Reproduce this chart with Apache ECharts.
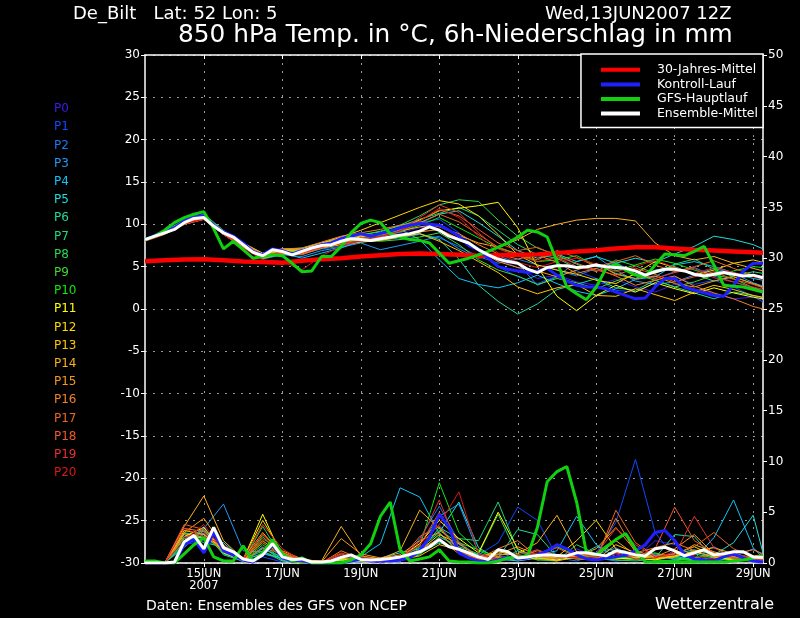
<!DOCTYPE html>
<html><head><meta charset="utf-8">
<script src="https://cdn.jsdelivr.net/npm/echarts@6/dist/echarts.min.js"></script>
<style>html,body{margin:0;padding:0;background:#000}#c{width:800px;height:618px}</style>
</head><body><div id="c"></div>
<script>
// ---- time axes (hours after 13JUN2007 12Z) ----
const hours6 = [0,6,12,18,24,30,36,42,48,54,60,66,72,78,84,90,96,102,108,114,120,126,132,138,144,150,156,162,168,174,180,186,192,198,204,210,216,222,228,234,240,246,252,258,264,270,276,282,288,294,300,306,312,318,324,330,336,342,348,354,360,366,372,378];
const hours12 = [0,12,24,36,48,60,72,84,96,108,120,132,144,156,168,180,192,204,216,228,240,252,264,276,288,300,312,324,336,348,360,372,378];
const tickHours = [36,84,132,180,228,276,324,372];
const tickLabels = ['15JUN\n2007','17JUN','19JUN','21JUN','23JUN','25JUN','27JUN','29JUN'];

// ---- main lines: 850 hPa temperature (°C) ----
const climTemp = [5.65,5.75,5.85,5.87,5.75,5.62,5.55,5.47,5.7,5.88,6.0,6.2,6.35,6.5,6.55,6.5,6.4,6.3,6.35,6.4,6.45,6.6,6.8,6.95,7.15,7.3,7.3,7.15,7.0,6.9,6.8,6.7,6.65];
const meanTemp = [8.2,8.6,9.0,9.4,10.2,10.7,10.8,9.8,9.0,8.5,7.6,6.7,6.3,7.0,6.8,6.4,6.8,7.2,7.5,7.6,8.0,8.3,8.2,8.1,8.3,8.5,8.7,8.9,9.2,9.7,9.3,8.6,8.2,7.8,7.0,6.4,5.9,5.6,5.4,4.7,4.3,4.9,5.1,5.1,4.9,5.0,5.2,5.0,4.9,4.8,4.5,4.0,4.4,4.7,4.7,4.5,4.1,3.9,4.1,4.3,4.1,3.9,4.0,3.7];
const ctrlTemp = [8.2,8.7,9.2,9.6,10.4,10.9,11.0,9.9,9.1,8.6,7.8,6.8,6.4,7.1,6.9,6.5,6.9,7.2,7.6,7.8,8.3,8.6,8.9,8.6,8.9,9.2,9.6,9.9,10.1,10.0,9.9,9.3,8.6,7.5,7.0,6.0,5.0,4.7,4.5,4.3,4.5,4.8,4.0,3.3,2.8,2.6,2.6,2.4,2.0,1.6,1.2,1.3,2.6,3.6,3.6,2.6,2.2,1.9,1.6,1.5,2.8,4.5,5.4,5.4];
const gfsTemp = [8.2,8.6,9.3,10.2,10.8,11.2,11.5,9.5,7.1,8.0,7.0,6.0,6.2,6.4,6.3,5.4,4.4,4.5,6.2,6.2,7.4,9.0,10.1,10.5,10.2,8.9,8.5,8.2,8.1,7.8,6.6,5.4,5.7,6.0,6.4,6.8,7.3,7.8,8.5,9.3,9.1,8.5,5.6,2.6,1.8,1.1,2.6,4.8,5.3,4.6,4.0,3.8,5.2,6.5,6.4,6.3,6.8,7.4,5.2,2.8,2.7,2.6,2.3,2.0];

// ---- main lines: 6h precipitation (mm) ----
const meanPrec = [0,0,0,0.1,2.1,2.7,1.4,3.5,1.5,1.1,0.4,0.2,0.8,1.9,0.6,0.35,0.4,0.1,0.1,0.2,0.55,0.8,0.35,0.3,0.35,0.45,0.6,0.85,1.1,1.6,2.3,1.6,1.35,1.0,0.6,0.35,1.3,1.1,0.5,0.6,0.75,0.8,0.75,0.7,1.0,1.0,0.85,0.7,1.2,1.05,0.8,0.7,1.4,1.55,1.2,0.7,1.0,1.3,0.8,0.9,1.1,1.1,0.6,0.55];
const ctrlPrec = [0,0,0,0,1.8,2.3,1.0,3.0,1.2,0.8,0.3,0.1,0.8,1.8,0.5,0.2,0.3,0,0,0,0,0.2,0.4,0.2,0.3,0.2,0.3,0.5,1.2,2.5,4.8,3.5,1.0,0.5,0.2,0.1,0.3,0.6,0.4,0.5,0.8,1.2,1.8,1.4,0.8,0.4,0.3,0.5,0.6,0.8,1.2,1.8,3.0,3.2,2.2,0.8,0.4,0.3,0.2,0.6,0.9,0.5,0.2,0.1];
const gfsPrec = [0.2,0.2,0,0,0.9,1.8,2.5,0.6,0.2,0.2,1.7,0.2,1.0,2.3,0.9,0.2,0.5,0,0,0,0,0.3,0.8,1.9,4.6,6.0,1.3,0.2,0.4,0.6,1.3,0.2,0.1,0.1,0,0,0.2,0.5,0.6,0.7,3.5,8.0,9.0,9.5,6.0,1.0,0.8,1.6,2.3,2.9,1.4,0.1,0.1,0.1,0.1,0.1,0.1,0.1,0.1,0.1,0.2,0.3,0.5,0.7];

// ---- ensemble members: temperature (12h) ----
const tP0 = [8.2,9.1,10.4,11.0,9.2,7.8,6.5,7.0,7.1,7.8,8.5,8.9,8.6,9.0,9.6,9.8,8.5,7.2,5.8,4.9,3.6,4.0,3.2,2.8,3.5,2.6,2.0,2.9,2.4,1.8,1.2,1.4,1.0];
const tP1 = [8.1,9.0,10.3,10.9,9.1,7.7,6.4,7.0,6.9,7.6,8.2,8.4,8.9,9.4,10.2,10.6,9.0,6.8,5.0,3.8,3.0,3.9,4.5,3.6,2.2,2.0,3.1,3.8,2.9,3.4,2.6,1.5,0.8];
const tP2 = [8.2,9.1,10.2,10.7,8.9,7.4,6.1,6.6,6.5,7.1,7.4,7.9,8.1,8.4,8.8,8.4,7.4,6.2,5.4,5.9,5.2,4.6,3.9,4.8,5.5,4.2,3.6,4.4,4.9,3.9,3.2,2.5,2.3];
const tP3 = [8.3,9.0,10.1,10.6,8.8,7.3,5.9,6.4,6.2,6.9,7.3,7.8,7.0,7.5,8.0,8.6,7.1,6.0,6.3,5.4,2.8,3.8,5.6,6.2,4.6,3.3,2.9,3.2,4.0,4.8,4.2,3.1,2.7];
const tP4 = [8.2,8.9,10.0,10.7,9.1,7.7,6.3,6.6,6.0,6.6,7.2,8.1,8.5,9.4,8.2,5.8,3.6,2.9,2.5,3.1,4.0,3.0,2.1,1.6,2.4,3.5,3.8,5.2,5.6,5.0,4.3,3.6,3.4];
const tP5 = [8.2,9.0,10.3,10.9,9.0,7.5,6.2,6.9,6.9,7.5,8.1,8.6,8.7,9.3,10.2,11.2,11.6,10.2,8.6,6.9,6.0,6.5,5.6,6.2,5.4,6.0,5.5,6.5,7.4,8.6,8.2,7.6,7.1];
const tP6 = [8.1,8.9,10.0,10.6,8.8,7.4,6.0,6.5,6.6,7.2,7.7,8.0,8.3,8.5,8.9,8.2,5.9,2.8,0.9,-0.6,0.6,2.3,2.9,3.6,2.5,2.2,3.4,2.6,1.9,1.2,2.0,1.6,1.3];
const tP7 = [8.2,9.2,10.5,11.2,9.3,7.7,6.4,7.0,7.2,7.8,8.3,8.7,9.2,9.8,10.6,11.3,12.0,11.0,9.3,7.6,6.4,6.0,4.8,5.3,4.2,3.6,4.6,5.0,4.1,3.3,3.9,4.4,4.2];
const tP8 = [8.2,9.1,10.4,11.0,9.1,7.6,6.3,6.8,6.9,7.7,8.4,8.8,9.1,9.9,11.0,12.3,12.9,12.7,10.5,8.6,7.2,6.4,5.3,4.4,5.8,5.1,4.2,5.3,5.9,4.7,3.8,3.0,2.6];
const tP9 = [8.3,9.0,10.2,10.8,8.9,7.4,6.2,6.7,6.8,7.4,7.9,8.1,8.0,8.2,8.5,9.0,7.6,5.8,4.6,3.9,2.9,3.6,3.1,2.4,3.3,4.1,3.4,2.6,3.2,4.0,3.6,2.5,2.1];
const tP10 = [8.2,9.0,10.3,10.9,9.0,7.6,6.3,6.9,6.8,7.5,8.1,8.3,8.6,9.1,9.9,10.8,9.6,8.4,7.2,6.5,5.6,5.8,6.3,5.1,4.5,5.2,5.9,5.4,4.6,3.9,4.5,5.0,4.9];
const tP11 = [8.2,9.0,10.2,10.8,9.0,7.6,6.4,6.9,6.8,7.5,8.0,8.5,8.9,9.5,10.5,11.6,11.9,12.2,12.6,9.6,5.0,1.5,-0.2,1.6,2.8,2.0,3.1,2.4,1.8,2.5,1.9,1.4,1.2];
const tP12 = [8.2,9.1,10.4,11.0,9.2,7.8,6.6,7.1,7.1,7.8,8.5,9.3,10.2,11.1,12.0,12.8,12.4,11.0,8.8,6.4,5.2,4.6,4.1,3.4,3.0,4.2,5.6,4.9,4.0,4.6,5.4,5.8,5.5];
const tP13 = [8.1,8.9,10.1,10.6,8.8,7.3,6.0,6.5,6.5,7.2,7.6,7.9,8.1,8.5,8.9,8.0,6.9,5.6,4.3,2.6,1.8,2.5,2.9,1.6,1.5,2.4,1.7,1.0,2.0,2.8,2.3,1.6,1.4];
const tP14 = [8.2,9.0,10.3,10.9,9.1,7.7,6.4,7.0,7.0,7.7,8.3,8.6,8.8,9.2,9.7,10.0,8.7,7.8,7.3,8.2,9.4,10.0,10.5,10.7,10.7,10.4,7.8,6.3,5.8,6.2,5.4,4.8,4.5];
const tP15 = [8.2,9.0,10.2,10.7,8.9,7.5,6.2,6.7,6.7,7.4,7.9,8.2,8.3,8.7,9.1,9.4,8.3,6.9,5.6,4.9,4.5,3.8,4.6,5.4,4.1,3.6,3.9,3.0,2.6,3.3,3.8,3.0,2.6];
const tP16 = [8.2,9.1,10.3,10.9,9.1,7.7,6.5,7.1,7.2,7.9,8.6,9.0,9.4,9.9,10.3,9.7,8.9,7.6,6.5,5.9,6.4,5.5,4.2,4.8,3.9,2.8,3.4,3.9,2.7,1.9,1.2,0.3,0.0];
const tP17 = [8.0,8.8,10.0,10.6,8.9,7.4,6.2,6.6,6.4,7.2,7.8,8.3,8.5,9.2,10.1,11.2,10.3,8.8,7.3,6.5,5.8,6.9,6.1,5.0,5.6,6.3,5.2,4.4,5.0,5.7,4.8,4.0,3.8];
const tP18 = [8.2,9.0,10.2,10.7,9.0,7.5,6.3,6.8,6.6,7.3,7.9,8.4,8.9,9.6,10.4,11.7,11.0,9.4,7.8,6.9,7.3,6.2,5.4,4.6,4.0,4.8,4.1,3.2,3.8,4.4,3.5,2.9,2.5];
const tP19 = [8.1,8.9,10.0,10.6,8.9,7.5,6.2,6.7,6.6,7.3,7.7,8.0,8.5,9.3,10.8,12.3,11.4,9.0,7.1,6.3,5.6,6.1,5.0,4.5,5.1,4.4,3.6,4.3,4.8,3.7,3.2,2.6,2.3];
const tP20 = [8.2,9.0,10.1,10.6,8.8,7.2,5.8,5.6,4.6,6.3,7.4,8.1,8.6,9.2,10.4,11.9,10.8,8.6,6.6,5.5,4.9,5.6,6.0,5.3,4.4,5.0,5.8,4.9,4.2,4.9,4.3,3.8,3.5];

// ---- ensemble members: precipitation (12h) ----
const pP0 = [0,0,2.5,3.0,1.2,0.3,1.0,0.2,0,0,0.6,0.3,0,0.4,1.5,3.8,1.2,0.3,0.8,0.2,0.5,0.3,1.4,0.6,0.9,0.4,2.2,1.8,0.6,0.2,0.4,0.2,0.1];
const pP1 = [0,0,1.8,2.2,1.4,0.2,0.6,0.1,0.3,0,0.2,0.1,0.4,0.2,1.1,2.5,1.8,0.8,2.0,5.5,4.2,0.6,0.5,1.0,4.0,10.2,3.0,0.5,0.3,0.2,0.6,0.3,0.2];
const pP2 = [0,0,1.5,3.6,1.0,0.1,1.6,0.3,0,0,0.3,0.5,0.2,0.1,2.4,5.6,2.1,0.6,0.2,0.4,1.3,0.5,0.2,0.8,1.5,0.6,0.3,0.2,0.9,1.6,0.5,0.3,0.2];
const pP3 = [0,0,2.2,3.4,5.8,1.2,1.1,0.4,0.2,0,0.8,0.4,0.3,0.6,1.8,4.6,5.8,1.0,0.3,1.2,0.6,0.4,0.9,0.5,0.2,0.4,0.8,0.3,0.5,1.0,0.6,1.4,0.8];
const pP4 = [0,0,1.8,2.8,1.0,0.2,1.4,0.6,0.3,0,0.4,0.6,1.9,7.4,6.5,2.9,1.2,0.5,0.3,0.6,0.8,1.2,4.6,1.8,0.6,0.5,0.9,0.6,0.4,2.5,6.2,1.5,0.5];
const pP5 = [0,0,3.0,2.5,2.0,0.3,0.9,0.5,0.1,0,0.3,0.2,0.5,1.0,1.4,3.0,6.0,1.5,0.4,0.2,0.5,0.8,0.6,1.6,1.2,0.4,0.6,0.9,1.3,0.8,2.0,4.7,1.0];
const pP6 = [0,0,2.0,3.3,0.8,0.2,1.5,0.3,0,0,0.2,0.1,0.3,0.5,0.9,2.0,1.4,0.8,0.5,3.3,2.8,0.6,0.4,0.3,1.2,0.7,0.5,2.8,2.6,0.4,0.3,0.2,0.1];
const pP7 = [0,0,2.8,2.0,1.6,0.1,2.6,0.8,0.2,0,0.5,0.3,0.2,0.4,1.0,3.5,2.4,2.2,6.0,1.2,0.3,0.5,0.8,0.6,0.3,0.2,0.4,0.6,0.9,0.5,0.3,0.6,0.4];
const pP8 = [0,0,1.6,3.2,1.3,0.2,3.6,0.5,0.1,0,0.3,0.4,0.2,0.3,0.8,2.6,1.6,0.9,4.8,0.7,0.3,0.2,1.8,0.9,0.5,0.3,0.7,0.4,0.2,0.6,0.4,0.3,0.2];
const pP9 = [0,0,2.4,2.9,0.9,0.3,1.2,0.2,0,0,0.2,0.6,0.4,0.2,1.4,3.2,2.0,1.3,0.6,0.3,0.9,1.6,0.7,0.3,0.4,0.6,1.0,0.5,0.3,0.2,0.5,0.4,0.3];
const pP10 = [0,0,2.0,2.6,1.2,0.2,1.8,0.4,0.1,0,0.4,0.3,0.2,0.5,1.6,7.9,3.0,1.2,0.4,0.5,0.6,0.8,0.4,0.9,0.6,0.4,0.3,0.2,0.5,0.8,0.4,0.6,0.5];
const pP11 = [0,0,2.6,3.5,1.0,0.3,4.8,0.6,0.2,0,0.3,0.2,0.4,0.6,1.9,4.2,2.4,1.0,5.0,1.4,0.5,0.3,0.6,0.8,0.4,0.5,0.3,0.7,1.1,0.6,0.3,0.2,0.3];
const pP12 = [0,0,3.2,2.8,1.4,0.4,4.2,1.0,0.3,0,0.4,0.2,0.3,0.2,1.2,2.8,1.9,0.6,1.1,0.7,0.4,0.6,2.2,4.2,1.4,0.5,0.6,0.9,1.6,0.7,0.4,0.3,0.2];
const pP13 = [0,0,2.9,2.4,1.7,0.2,2.2,0.7,0.2,0,0.5,0.4,0.2,0.3,0.7,1.8,1.3,0.4,0.6,0.3,0.5,0.2,0.6,0.3,1.8,1.0,0.4,0.6,1.2,1.5,0.9,0.5,0.4];
const pP14 = [0,0,3.6,6.6,2.2,0.4,3.0,0.8,0.3,0.2,3.6,0.7,0.4,1.2,5.2,3.4,1.4,0.6,0.8,0.9,2.0,4.7,1.1,0.6,2.2,0.8,0.5,0.7,1.8,1.1,0.6,0.4,0.3];
const pP15 = [0,0,3.0,4.4,1.6,0.2,2.8,1.2,0.4,0.1,2.4,0.9,0.5,0.8,2.2,3.0,1.0,0.5,0.9,1.6,0.8,0.5,0.7,1.4,3.5,1.2,0.6,1.4,2.8,0.9,0.5,0.7,0.8];
const pP16 = [0,0,3.4,3.1,1.3,0.3,2.0,0.6,0.2,0,1.2,0.4,0.3,0.4,1.3,2.4,0.9,0.4,1.4,2.2,0.6,0.4,0.9,0.6,4.4,1.0,1.5,2.0,1.2,0.6,0.9,1.3,0.9];
const pP17 = [0,0,2.6,2.9,1.1,0.2,1.5,0.9,0.3,0,0.9,0.3,0.2,0.3,2.6,3.6,1.2,0.3,0.6,0.5,1.2,0.8,0.4,0.3,5.2,2.0,0.7,0.9,1.6,3.0,1.4,0.6,0.4];
const pP18 = [0,0,3.8,3.3,1.5,0.3,2.4,1.1,0.2,0,0.6,0.2,0.3,0.6,1.7,5.0,2.0,0.5,0.3,0.6,0.9,1.5,0.6,0.4,1.0,0.6,1.4,5.5,2.2,1.0,0.4,0.3,0.2];
const pP19 = [0,0,3.4,2.6,1.8,0.4,3.8,1.4,0.2,0.1,1.0,0.4,0.2,0.5,2.1,6.2,1.4,0.7,0.4,0.8,1.3,0.6,0.5,0.9,3.4,1.8,0.6,0.8,4.6,1.5,0.5,0.4,0.3];
const pP20 = [0,0,2.2,3.8,1.2,0.3,2.9,0.5,0.1,0,0.8,0.6,0.3,0.4,1.8,3.8,7.0,0.9,0.4,0.6,1.0,0.7,0.5,0.6,0.9,0.4,0.5,1.1,0.7,0.4,0.8,0.6,0.5];

const memberNames = ['P0','P1','P2','P3','P4','P5','P6','P7','P8','P9','P10','P11','P12','P13','P14','P15','P16','P17','P18','P19','P20'];
const memberColors = ['#3a1cf0','#1048ff','#1878f0','#2098f8','#10c4f8','#20dcdc','#20d8a0','#20d878','#28d850','#40d830','#10e810','#ffff00','#ffd800','#ffc400','#f8b020','#f89818','#f08028','#e86820','#f05828','#e83030','#d81818'];
const memberTemps = [tP0,tP1,tP2,tP3,tP4,tP5,tP6,tP7,tP8,tP9,tP10,tP11,tP12,tP13,tP14,tP15,tP16,tP17,tP18,tP19,tP20];
const memberPrecs = [pP0,pP1,pP2,pP3,pP4,pP5,pP6,pP7,pP8,pP9,pP10,pP11,pP12,pP13,pP14,pP15,pP16,pP17,pP18,pP19,pP20];

const legendNames = ['30-Jahres-Mittel','Kontroll-Lauf','GFS-Hauptlauf','Ensemble-Mittel'];
const legendColors = ['#ff0000','#2020ff','#10d010','#ffffff'];

const FONT = 'DejaVu Sans';
function pairs(h, v){ return h.map((x,i)=>[x, v[i]]); }

const series = [];
memberNames.forEach((name,i)=>{
  series.push({name, type:'line', xAxisIndex:0, yAxisIndex:0, data:pairs(hours12, memberTemps[i]),
    symbol:'none', silent:true, z:2, lineStyle:{width:1, color:memberColors[i]}, itemStyle:{color:memberColors[i]}});
  series.push({name, type:'line', xAxisIndex:0, yAxisIndex:1, data:pairs(hours12, memberPrecs[i]),
    symbol:'none', silent:true, z:2, lineStyle:{width:1, color:memberColors[i]}, itemStyle:{color:memberColors[i]}});
});
function mainLine(name, color, width, yIdx, hours, vals, z){
  return {name, type:'line', xAxisIndex:0, yAxisIndex:yIdx, data:pairs(hours, vals), symbol:'none', silent:true, z,
    lineStyle:{width, color}, itemStyle:{color}};
}
series.push(mainLine(legendNames[0], legendColors[0], 4.5, 0, hours12, climTemp, 3));
series.push(mainLine(legendNames[1], legendColors[1], 3, 0, hours6, ctrlTemp, 4));
series.push(mainLine(legendNames[1], legendColors[1], 3, 1, hours6, ctrlPrec, 4));
series.push(mainLine(legendNames[2], legendColors[2], 3, 0, hours6, gfsTemp, 5));
series.push(mainLine(legendNames[2], legendColors[2], 3, 1, hours6, gfsPrec, 5));
series.push(mainLine(legendNames[3], legendColors[3], 3, 0, hours6, meanTemp, 6));
series.push(mainLine(legendNames[3], legendColors[3], 3, 1, hours6, meanPrec, 6));

const gridLine = {show:true, lineStyle:{color:'#9a9a9a', width:1, type:[2,6]}};
const white = {color:'#ffffff', width:1.5};

const graphics = memberNames.map((name,i)=>({
  type:'text', left:54, top:103 + i*18.2,
  style:{text:name, fill:memberColors[i], font:'12px "'+FONT+'"'}
}));

const chart = echarts.init(document.getElementById('c'), null, {renderer:'canvas'});
chart.setOption({
  backgroundColor:'#000000',
  animation:false,
  textStyle:{fontFamily:FONT},
  title:[
    {text:'De_Bilt   Lat: 52 Lon: 5', left:73, top:5, padding:0, textStyle:{color:'#fff', fontSize:18, fontWeight:'normal', fontFamily:FONT}},
    {text:'Wed,13JUN2007 12Z', left:545, top:5, padding:0, textStyle:{color:'#fff', fontSize:18, fontWeight:'normal', fontFamily:FONT}},
    {text:'850 hPa Temp. in °C, 6h-Niederschlag in mm', left:178, top:23, padding:0, textStyle:{color:'#fff', fontSize:24.8, fontWeight:'normal', fontFamily:FONT}},
    {text:'Daten: Ensembles des GFS von NCEP', left:146, top:599, padding:0, textStyle:{color:'#fff', fontSize:14, fontWeight:'normal', fontFamily:FONT}},
    {text:'Wetterzentrale', left:655, top:597, padding:0, textStyle:{color:'#fff', fontSize:16, fontWeight:'normal', fontFamily:FONT}}
  ],
  legend:{
    data:legendNames, orient:'vertical', right:37, top:54, icon:'rect', itemWidth:39, itemHeight:4,
    itemGap:1, selectedMode:false, backgroundColor:'#000', borderColor:'#fff', borderWidth:1.5,
    padding:[9,5,7,20], z:10,
    textStyle:{color:'#fff', fontSize:12.5, fontFamily:FONT, padding:[0,0,0,12], lineHeight:13.6}
  },
  grid:{left:145, right:37, top:55, bottom:55, containLabel:false},
  xAxis:[
    {type:'value', min:0, max:378, position:'bottom',
      axisLine:{show:true, onZero:false, lineStyle:white},
      axisTick:{show:true, customValues:tickHours, length:4, lineStyle:{color:'#fff'}},
      axisLabel:{show:true, customValues:tickHours, color:'#fff', fontSize:11.5, fontFamily:FONT, margin:5, lineHeight:12,
        formatter:(v)=>{const k=tickHours.indexOf(v); return k<0?'':tickLabels[k];}},
      splitLine:gridLine},
    {type:'value', min:0, max:378, position:'top',
      axisLine:{show:true, onZero:false, lineStyle:white},
      axisTick:{show:true, inside:true, customValues:tickHours, length:4, lineStyle:{color:'#fff'}},
      axisLabel:{show:false}, splitLine:{show:false}}
  ],
  yAxis:[
    {type:'value', min:-30, max:30, interval:5, position:'left',
      axisLine:{show:true, onZero:false, lineStyle:white},
      axisTick:{show:true, length:4, lineStyle:{color:'#fff'}},
      axisLabel:{color:'#fff', fontSize:12, fontFamily:FONT, margin:5},
      splitLine:gridLine},
    {type:'value', min:0, max:50, interval:5, position:'right',
      axisLine:{show:true, onZero:false, lineStyle:white},
      axisTick:{show:true, length:4, lineStyle:{color:'#fff'}},
      axisLabel:{color:'#fff', fontSize:12, fontFamily:FONT, margin:5},
      splitLine:{show:false}}
  ],
  graphic:graphics,
  series
});
</script>
</body></html>
